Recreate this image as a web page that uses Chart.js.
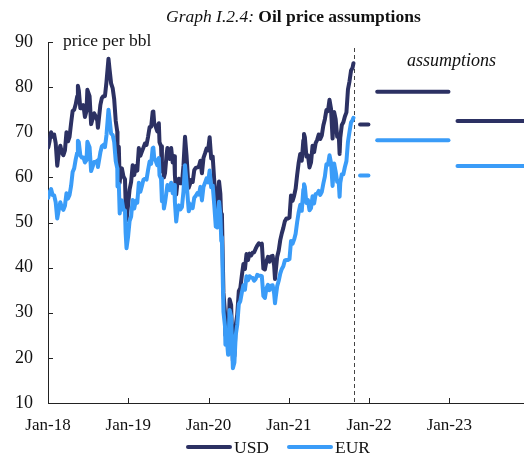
<!DOCTYPE html>
<html>
<head>
<meta charset="utf-8">
<script src="https://cdn.jsdelivr.net/npm/chart.js@4/dist/chart.umd.min.js"></script>
<style>
  html, body { margin: 0; padding: 0; background: #fff; }
  #wrap { position: relative; width: 524px; height: 458px; }
</style>
</head>
<body>
<div id="wrap"><canvas id="oilChart" width="524" height="458"></canvas></div>
<script>
// Brent price per barrel, roughly weekly readings
const dates = [
  '2018-01-02','2018-01-08','2018-01-15','2018-01-22','2018-01-29','2018-02-05','2018-02-12','2018-02-19','2018-02-26',
  '2018-03-05','2018-03-12','2018-03-19','2018-03-26','2018-04-02','2018-04-09','2018-04-16','2018-04-23','2018-04-30',
  '2018-05-07','2018-05-14','2018-05-17','2018-05-21','2018-05-28','2018-06-04','2018-06-11','2018-06-18','2018-06-25',
  '2018-06-29','2018-07-09','2018-07-16','2018-07-23','2018-07-30','2018-08-06','2018-08-13','2018-08-16','2018-08-27',
  '2018-09-03','2018-09-10','2018-09-17','2018-09-24','2018-10-03','2018-10-08','2018-10-15','2018-10-22','2018-10-29',
  '2018-11-05','2018-11-12','2018-11-13','2018-11-19','2018-11-23','2018-11-26','2018-12-03','2018-12-10','2018-12-17',
  '2018-12-20','2018-12-24','2018-12-31',
  '2019-01-07','2019-01-14','2019-01-21','2019-01-28','2019-02-04','2019-02-11','2019-02-18','2019-02-25','2019-03-04',
  '2019-03-11','2019-03-18','2019-03-25','2019-04-01','2019-04-08','2019-04-15','2019-04-22','2019-04-25','2019-04-29',
  '2019-05-06','2019-05-13','2019-05-20','2019-05-23','2019-05-30','2019-06-03','2019-06-10','2019-06-12','2019-06-17',
  '2019-06-24','2019-06-28','2019-07-01','2019-07-08','2019-07-15','2019-07-22','2019-07-29','2019-08-01','2019-08-07',
  '2019-08-12','2019-08-19','2019-08-26','2019-09-02','2019-09-09','2019-09-16','2019-09-23','2019-09-30','2019-10-03',
  '2019-10-07','2019-10-14','2019-10-21','2019-10-28','2019-11-04','2019-11-11','2019-11-18','2019-11-25','2019-12-02',
  '2019-12-09','2019-12-16','2019-12-23','2019-12-30',
  '2020-01-06','2020-01-13','2020-01-20','2020-01-27','2020-02-03','2020-02-10','2020-02-18','2020-02-24','2020-02-28',
  '2020-03-02','2020-03-09','2020-03-16','2020-03-18','2020-03-23','2020-03-30','2020-04-01','2020-04-06','2020-04-13',
  '2020-04-21','2020-04-28','2020-05-04','2020-05-11','2020-05-18','2020-05-25','2020-06-01','2020-06-08','2020-06-15',
  '2020-06-22','2020-06-29','2020-07-06','2020-07-13','2020-07-20','2020-07-27','2020-08-03','2020-08-10','2020-08-17',
  '2020-08-24','2020-08-31','2020-09-07','2020-09-14','2020-09-21','2020-09-28','2020-10-05','2020-10-12','2020-10-19',
  '2020-10-26','2020-10-30','2020-11-02','2020-11-09','2020-11-16','2020-11-23','2020-11-30','2020-12-07','2020-12-14',
  '2020-12-21','2020-12-28',
  '2021-01-04','2021-01-11','2021-01-18','2021-01-25','2021-02-01','2021-02-08','2021-02-15','2021-02-22','2021-03-01',
  '2021-03-08','2021-03-11','2021-03-15','2021-03-22','2021-03-29','2021-04-05','2021-04-12','2021-04-19','2021-04-26',
  '2021-05-03','2021-05-10','2021-05-17','2021-05-24','2021-05-31','2021-06-07','2021-06-14','2021-06-21','2021-06-28',
  '2021-07-05','2021-07-12','2021-07-19','2021-07-26','2021-08-02','2021-08-09','2021-08-16','2021-08-20','2021-08-23',
  '2021-08-30','2021-09-06','2021-09-13','2021-09-20','2021-09-27','2021-10-04','2021-10-11','2021-10-18','2021-10-22'
];

const usd = [
  66.6, 68.0, 70.0, 69.0, 69.5, 67.6, 62.6, 65.5, 67.0,
  65.5, 64.9, 66.0, 70.0, 68.0, 69.0, 72.0, 74.7, 75.0,
  76.2, 78.0, 80.3, 79.3, 75.3, 75.3, 76.0, 73.4, 74.7,
  79.4, 78.0, 71.8, 73.0, 74.2, 73.5, 72.6, 71.0, 76.0,
  77.6, 78.0, 78.0, 81.2, 86.3, 83.9, 80.8, 79.8, 77.3,
  72.5, 70.1, 65.5, 66.8, 58.8, 60.5, 62.0, 60.2, 59.6,
  54.4, 50.5, 53.8,
  57.3, 59.0, 62.7, 60.5, 62.5, 61.5, 66.5, 64.8, 65.7,
  66.6, 67.5, 67.2, 69.0, 71.1, 71.2, 74.5, 74.6, 72.0,
  71.2, 70.2, 72.0, 67.8, 66.9, 61.3, 62.3, 60.0, 60.9,
  64.9, 66.5, 65.0, 64.1, 66.5, 63.3, 64.7, 60.5, 56.2,
  58.6, 59.7, 58.7, 58.7, 62.6, 69.0, 64.8, 59.3, 57.7,
  58.3, 59.4, 59.0, 61.6, 62.1, 62.2, 62.4, 63.7, 60.9,
  64.3, 65.3, 66.4, 66.0,
  68.9, 64.2, 64.6, 59.3, 54.5, 53.3, 59.1, 56.3, 50.5,
  51.9, 34.4, 30.0, 25.0, 27.0, 22.8, 24.7, 33.0, 31.7,
  19.3, 20.5, 27.2, 29.6, 34.8, 35.5, 38.3, 40.8, 39.7,
  43.0, 41.7, 43.1, 42.7, 43.3, 43.4, 44.2, 44.9, 45.4,
  45.1, 45.3, 39.8, 39.6, 41.4, 42.4, 41.3, 42.5, 42.6,
  40.5, 37.5, 39.0, 42.4, 43.8, 46.1, 47.6, 48.8, 50.3,
  50.9, 50.9,
  51.1, 56.0, 54.8, 55.9, 57.5, 60.6, 63.3, 65.2, 63.7,
  68.2, 69.6, 68.9, 64.6, 64.9, 62.2, 63.3, 67.0, 65.6,
  67.6, 68.3, 69.5, 68.5, 69.3, 71.5, 72.9, 74.9, 74.7,
  77.2, 75.2, 68.6, 74.5, 72.9, 69.0, 69.5, 65.2, 68.8,
  71.6, 72.2, 73.5, 74.4, 79.5, 81.3, 83.7, 84.3, 85.3
];

const eur = [
  55.5, 56.7, 57.4, 56.1, 56.0, 54.5, 50.9, 52.8, 54.5,
  53.3, 52.8, 53.7, 56.5, 55.3, 56.1, 58.1, 61.2, 62.0,
  64.0, 65.5, 68.1, 67.8, 64.9, 64.4, 64.4, 63.3, 63.8,
  67.9, 66.7, 61.4, 62.4, 63.4, 63.4, 63.7, 62.3, 65.5,
  66.9, 67.2, 66.7, 69.4, 75.0, 73.0, 69.7, 69.4, 67.8,
  63.6, 62.0, 58.0, 58.6, 52.0, 53.5, 54.9, 52.8, 52.7,
  47.7, 44.3, 46.8,
  50.3, 51.3, 55.0, 53.1, 54.8, 54.4, 58.8, 56.8, 58.1,
  59.5, 59.7, 59.5, 61.6, 63.5, 63.0, 66.5, 66.6, 64.3,
  63.6, 62.7, 64.3, 60.5, 59.7, 54.7, 55.1, 53.1, 54.4,
  56.9, 58.3, 57.5, 57.2, 58.8, 56.5, 58.3, 54.5, 50.2,
  52.3, 53.8, 52.9, 53.4, 56.9, 62.7, 58.9, 54.4, 52.5,
  53.0, 54.0, 53.2, 55.5, 55.9, 56.5, 56.2, 57.9, 54.9,
  57.9, 58.8, 59.8, 58.9,
  61.5, 57.8, 58.2, 53.9, 49.1, 48.9, 54.6, 51.7, 45.9,
  46.8, 30.2, 27.0, 22.9, 25.2, 20.7, 22.5, 30.6, 29.1,
  17.7, 19.0, 25.0, 27.4, 31.9, 32.6, 34.5, 36.1, 35.1,
  38.1, 37.2, 38.1, 37.8, 37.7, 37.1, 37.5, 38.4, 38.2,
  38.2, 38.1, 33.7, 33.3, 35.4, 36.2, 35.0, 36.0, 36.1,
  34.3, 32.1, 33.3, 35.9, 37.1, 38.7, 39.7, 40.3, 41.6,
  41.7, 41.7,
  41.9, 45.9, 45.3, 46.2, 47.5, 50.1, 52.3, 53.9, 52.6,
  57.3, 58.5, 57.9, 54.3, 55.0, 52.7, 53.2, 55.8, 54.2,
  56.3, 56.4, 57.0, 56.1, 56.8, 58.6, 60.2, 62.9, 62.8,
  64.9, 63.2, 58.1, 63.1, 61.3, 59.0, 58.9, 55.7, 58.8,
  60.7, 60.7, 62.3, 63.6, 67.9, 70.1, 72.2, 72.7, 73.2
];

// assumption periods (Q4-2021, 2022, 2023)
const assumptionStart = ['2021-11-21', '2022-02-07', '2023-02-07'];
const assumptionEnd = ['2021-12-29', '2022-12-28', '2024-02-01'];
const usdAssumption = [71.7, 79.0, 72.5];
const eurAssumption = [60.4, 68.2, 62.5];
const forecastStart = '2021-10-25';

const yTicks = [10, 20, 30, 40, 50, 60, 70, 80, 90];
const xTickYears = [2018, 2019, 2020, 2021, 2022, 2023];

const USD_COLOR = '#2c3163';
const EUR_COLOR = '#3a9cf8';
const SERIF = "'Liberation Serif', 'Times New Roman', serif";

// date string -> decimal year
function toYear(s) {
    const d = new Date(s + 'T00:00:00Z');
    const y = d.getUTCFullYear();
    const start = Date.UTC(y, 0, 1);
    return y + (d.getTime() - start) / (Date.UTC(y + 1, 0, 1) - start);
}

const lineStyle = {
    borderWidth: 4,
    pointRadius: 0,
    fill: false,
    tension: 0,
    borderJoinStyle: 'round',
    borderCapStyle: 'round'
};

const datasets = [
    Object.assign({ label: 'USD', order: 2, borderColor: USD_COLOR,
        data: dates.map((d, i) => ({ x: toYear(d), y: usd[i] })) }, lineStyle),
    Object.assign({ label: 'EUR', order: 1, borderColor: EUR_COLOR,
        data: dates.map((d, i) => ({ x: toYear(d), y: eur[i] })) }, lineStyle)
];

assumptionStart.forEach((s, i) => {
    datasets.push(Object.assign({ label: 'USD assumption', order: 2, borderColor: USD_COLOR,
        data: [{ x: toYear(s), y: usdAssumption[i] }, { x: toYear(assumptionEnd[i]), y: usdAssumption[i] }] }, lineStyle));
    datasets.push(Object.assign({ label: 'EUR assumption', order: 1, borderColor: EUR_COLOR,
        data: [{ x: toYear(s), y: eurAssumption[i] }, { x: toYear(assumptionEnd[i]), y: eurAssumption[i] }] }, lineStyle));
});

// inner tick marks, dashed forecast line and free text
const decorations = {
    id: 'decorations',
    beforeDatasetsDraw(chart) {
        const { ctx, chartArea, scales } = chart;
        ctx.save();
        ctx.strokeStyle = '#222';
        ctx.lineWidth = 1;
        yTicks.forEach(v => {
            const y = Math.round(scales.y.getPixelForValue(v)) + 0.5;
            ctx.beginPath();
            ctx.moveTo(chartArea.left, y);
            ctx.lineTo(chartArea.left + 5, y);
            ctx.stroke();
        });
        xTickYears.forEach(v => {
            const x = Math.round(scales.x.getPixelForValue(v)) + 0.5;
            ctx.beginPath();
            ctx.moveTo(x, chartArea.bottom);
            ctx.lineTo(x, chartArea.bottom - 5);
            ctx.stroke();
        });
        // start of the assumption period
        const fx = Math.round(scales.x.getPixelForValue(toYear(forecastStart))) + 0.5;
        ctx.strokeStyle = '#444';
        ctx.setLineDash([4, 3]);
        ctx.beginPath();
        ctx.moveTo(fx, chartArea.top + 6);
        ctx.lineTo(fx, chartArea.bottom);
        ctx.stroke();
        ctx.restore();
    },
    afterDraw(chart) {
        const { ctx } = chart;
        ctx.save();
        ctx.fillStyle = '#111';
        ctx.textBaseline = 'alphabetic';
        ctx.textAlign = 'left';

        // title
        ctx.font = 'italic 17.5px ' + SERIF;
        const part1 = 'Graph I.2.4: ';
        ctx.fillText(part1, 166, 22);
        const w1 = ctx.measureText(part1).width;
        ctx.font = 'bold 17.5px ' + SERIF;
        ctx.fillText('Oil price assumptions', 166 + w1, 22);

        ctx.font = '17.5px ' + SERIF;
        ctx.fillText('price per bbl', 63, 46);
        ctx.font = 'italic 18px ' + SERIF;
        ctx.fillText('assumptions', 407, 66);

        // legend
        const items = [['USD', USD_COLOR, 187], ['EUR', EUR_COLOR, 288]];
        items.forEach(([name, color, x0]) => {
            ctx.strokeStyle = color;
            ctx.lineWidth = 4;
            ctx.lineCap = 'round';
            ctx.beginPath();
            ctx.moveTo(x0 + 1, 447);
            ctx.lineTo(x0 + 43, 447);
            ctx.stroke();
            ctx.font = '17.5px ' + SERIF;
            ctx.fillText(name, x0 + 47, 453);
        });
        ctx.restore();
    }
};

new Chart(document.getElementById('oilChart'), {
    type: 'line',
    data: { datasets: datasets },
    options: {
        responsive: false,
        animation: false,
        layout: { padding: { top: 42, left: 0, right: 0, bottom: 0 } },
        plugins: {
            legend: { display: false },
            tooltip: { enabled: false },
            title: { display: false }
        },
        scales: {
            x: {
                type: 'linear',
                min: 2018,
                max: 2023.93,
                afterBuildTicks: s => { s.ticks = xTickYears.map(v => ({ value: v })); },
                afterFit: s => { s.height = 55; },
                ticks: {
                    autoSkip: false,
                    maxRotation: 0,
                    padding: 12,
                    color: '#111',
                    font: { family: SERIF, size: 17 },
                    callback: v => 'Jan-' + String(v).slice(2)
                },
                grid: { display: false, drawTicks: false },
                border: { display: true, color: '#222', width: 1 }
            },
            y: {
                min: 10,
                max: 90,
                afterBuildTicks: s => { s.ticks = yTicks.map(v => ({ value: v })); },
                afterFit: s => { s.width = 48; },
                ticks: {
                    padding: 15,
                    color: '#111',
                    font: { family: SERIF, size: 18 }
                },
                grid: { display: false, drawTicks: false },
                border: { display: true, color: '#222', width: 1 }
            }
        }
    },
    plugins: [decorations]
});
</script>
</body>
</html>
